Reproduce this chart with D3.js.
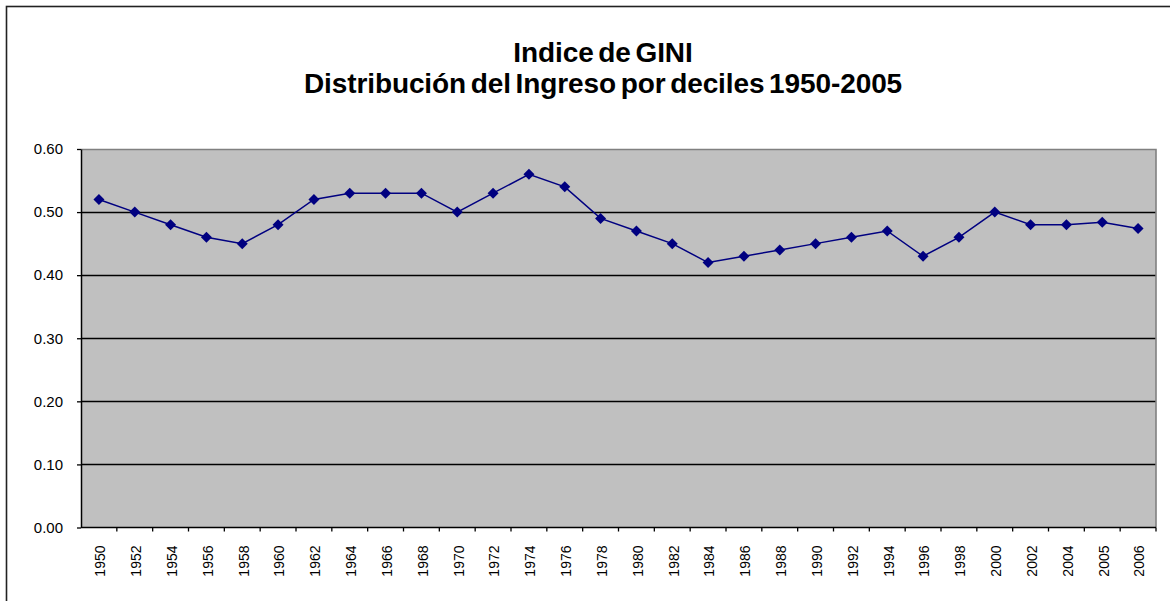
<!DOCTYPE html>
<html>
<head>
<meta charset="utf-8">
<script src="https://cdn.jsdelivr.net/npm/d3@7"></script>
<style>
  body { margin: 0; background: #fff; }
  svg { display: block; font-family: "Liberation Sans", Arimo, sans-serif; }
</style>
</head>
<body>
<div id="chart"></div>
<script>
// data
const years = ["1950","1952","1954","1956","1958","1960","1962","1964","1966","1968",
               "1970","1972","1974","1976","1978","1980","1982","1984","1986","1988",
               "1990","1992","1994","1996","1998","2000","2002","2004","2005","2006"];
const gini = [0.52,0.50,0.48,0.46,0.45,0.48,0.52,0.53,0.53,0.53,
              0.50,0.53,0.56,0.54,0.49,0.47,0.45,0.42,0.43,0.44,
              0.45,0.46,0.47,0.43,0.46,0.50,0.48,0.48,0.484,0.474];
const yTicks = [0, 0.1, 0.2, 0.3, 0.4, 0.5, 0.6];
const titleLines = ["Indice de GINI", "Distribución del Ingreso por deciles 1950-2005"];

const width = 1170, height = 601;
const margin = {top: 149, right: 14, bottom: 73, left: 81};
const fontFam = "'Liberation Sans', Arimo, sans-serif";

const svg = d3.select("#chart").append("svg")
    .attr("width", width)
    .attr("height", height);

// outer chart frame (runs off the right / bottom of the picture)
svg.append("rect")
    .attr("x", 6.5).attr("y", 6.5)
    .attr("width", width + 20).attr("height", height + 20)
    .style("fill", "#fff")
    .style("stroke", "#222")
    .style("stroke-width", 1.6);

const x = d3.scaleBand()
    .domain(years)
    .range([margin.left, width - margin.right]);

const y = d3.scaleLinear()
    .domain([0, 0.6])
    .range([height - margin.bottom - 0.5, margin.top]);

// plot area
svg.append("rect")
    .attr("x", margin.left).attr("y", margin.top)
    .attr("width", width - margin.right - margin.left)
    .attr("height", y(0) - margin.top)
    .style("fill", "#c0c0c0");

// gridlines
svg.append("g")
  .selectAll("line")
  .data(yTicks.filter(d => d > 0 && d < 0.6))
  .enter().append("line")
    .attr("x1", margin.left).attr("x2", width - margin.right)
    .attr("y1", d => Math.round(y(d)) + 0.5)
    .attr("y2", d => Math.round(y(d)) + 0.5)
    .style("stroke", "#000")
    .style("stroke-width", 1.3);

// gray top / right border of plot area
svg.append("path")
    .attr("d", "M" + margin.left + "," + (margin.top + 0.5) +
               "H" + (width - margin.right) + "V" + y(0))
    .style("fill", "none")
    .style("stroke", "#808080")
    .style("stroke-width", 1.6);

// y axis
const yAxis = svg.append("g")
    .attr("transform", "translate(" + margin.left + ",0)")
    .call(d3.axisLeft(y).tickValues(yTicks).tickFormat(d3.format(".2f"))
          .tickSize(4).tickSizeOuter(0).tickPadding(14));
yAxis.select(".domain").style("stroke", "#000").style("stroke-width", 1.5);
yAxis.selectAll(".tick line").style("stroke", "#000").style("stroke-width", 1.3);
yAxis.selectAll("text")
    .style("font-size", "15px")
    .style("fill", "#000")
    .style("font-family", fontFam);

// x axis, ticks on category boundaries
const xAxisG = svg.append("g")
    .attr("transform", "translate(0," + y(0) + ")");
xAxisG.append("line")
    .attr("x1", margin.left).attr("x2", width - margin.right)
    .style("stroke", "#000").style("stroke-width", 1.5);
xAxisG.selectAll(".xtick")
  .data(years)
  .enter().append("line")
    .attr("class", "xtick")
    .attr("x1", d => x(d) + x.bandwidth())
    .attr("x2", d => x(d) + x.bandwidth())
    .attr("y1", 0).attr("y2", 4)
    .style("stroke", "#000").style("stroke-width", 1.3);
xAxisG.selectAll(".xlabel")
  .data(years)
  .enter().append("text")
    .attr("class", "xlabel")
    .attr("transform", d => "translate(" + (x(d) + x.bandwidth() / 2 + 1.5) + ",18) rotate(-90)")
    .attr("dy", "0.35em")
    .attr("text-anchor", "end")
    .style("font-size", "14px")
    .style("font-family", fontFam)
    .text(d => d);

// series
const line = d3.line()
    .x((d, i) => x(years[i]) + x.bandwidth() / 2)
    .y(d => y(d));

svg.append("path")
    .datum(gini)
    .attr("d", line)
    .style("fill", "none")
    .style("stroke", "#000080")
    .style("stroke-width", 1.5);

svg.append("g")
  .selectAll("path")
  .data(gini)
  .enter().append("path")
    .attr("transform", (d, i) => "translate(" + (x(years[i]) + x.bandwidth() / 2) + "," + y(d) + ")")
    .attr("d", "M0,-5.5L5.5,0L0,5.5L-5.5,0Z")
    .style("fill", "#000080");

// title
svg.append("g")
  .selectAll("text")
  .data(titleLines)
  .enter().append("text")
    .attr("x", 603)
    .attr("y", (d, i) => 62 + i * 31)
    .attr("text-anchor", "middle")
    .style("font-size", "28px")
    .style("font-weight", "bold")
    .style("font-family", fontFam)
    .style("letter-spacing", "-0.1px")
    .style("word-spacing", "-3px")
    .text(d => d);
</script>
</body>
</html>
